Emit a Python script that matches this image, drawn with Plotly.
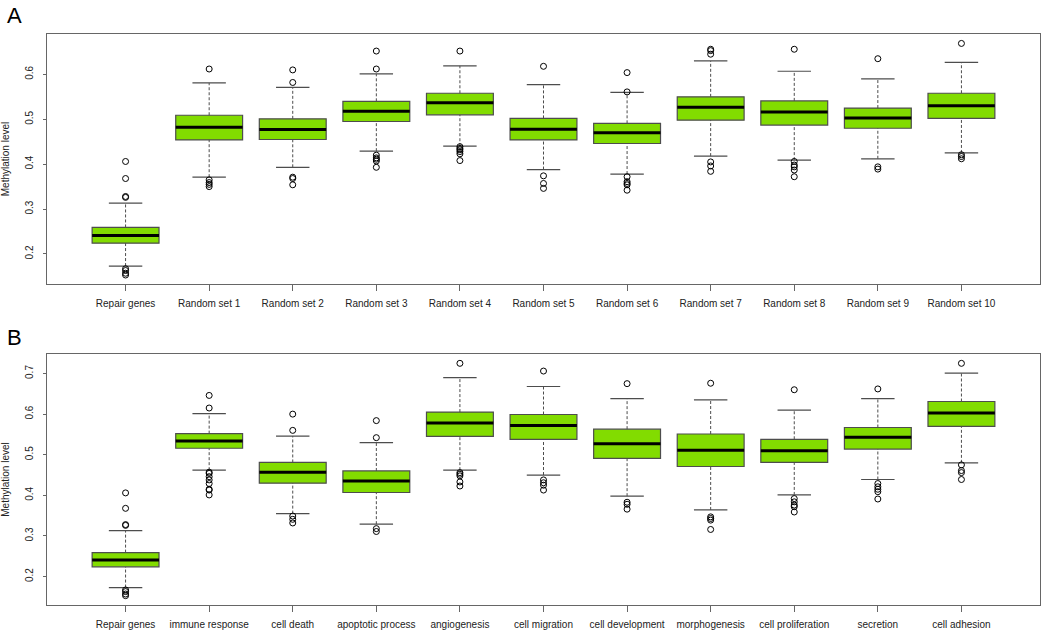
import plotly.graph_objects as go

# =========================
# 1. DATA
# =========================
cats_a = ["Repair genes", "Random set 1", "Random set 2", "Random set 3", "Random set 4",
          "Random set 5", "Random set 6", "Random set 7", "Random set 8", "Random set 9",
          "Random set 10"]
lo_a = [0.173, 0.371, 0.393, 0.429, 0.440, 0.388, 0.378, 0.418, 0.409, 0.412, 0.425]
q1_a = [0.224, 0.454, 0.455, 0.495, 0.510, 0.454, 0.446, 0.498, 0.487, 0.480, 0.502]
med_a = [0.241, 0.482, 0.477, 0.518, 0.537, 0.478, 0.470, 0.527, 0.516, 0.503, 0.530]
q3_a = [0.259, 0.509, 0.501, 0.540, 0.558, 0.502, 0.491, 0.550, 0.541, 0.525, 0.558]
hi_a = [0.313, 0.581, 0.571, 0.601, 0.619, 0.577, 0.560, 0.630, 0.607, 0.590, 0.627]
out_a = [
    [0.406, 0.368, 0.328, 0.326, 0.167, 0.163, 0.157, 0.153],
    [0.612, 0.365, 0.359, 0.355, 0.350],
    [0.610, 0.582, 0.371, 0.368, 0.354],
    [0.652, 0.612, 0.420, 0.414, 0.411, 0.407, 0.393],
    [0.652, 0.439, 0.435, 0.432, 0.428, 0.423, 0.408],
    [0.618, 0.374, 0.357, 0.346],
    [0.604, 0.561, 0.372, 0.361, 0.357, 0.354, 0.342],
    [0.656, 0.653, 0.645, 0.405, 0.396, 0.384],
    [0.656, 0.406, 0.398, 0.394, 0.387, 0.372],
    [0.635, 0.394, 0.389],
    [0.669, 0.421, 0.417, 0.412],
]

cats_b = ["Repair genes", "immune response", "cell death", "apoptotic process", "angiogenesis",
          "cell migration", "cell development", "morphogenesis", "cell proliferation",
          "secretion", "cell adhesion"]
lo_b = [0.173, 0.462, 0.355, 0.329, 0.462, 0.450, 0.398, 0.364, 0.401, 0.439, 0.480]
q1_b = [0.224, 0.516, 0.430, 0.407, 0.545, 0.538, 0.491, 0.471, 0.481, 0.514, 0.570]
med_b = [0.241, 0.534, 0.457, 0.435, 0.578, 0.572, 0.527, 0.511, 0.510, 0.543, 0.603]
q3_b = [0.259, 0.552, 0.481, 0.460, 0.605, 0.599, 0.563, 0.551, 0.538, 0.567, 0.631]
hi_b = [0.313, 0.601, 0.546, 0.530, 0.690, 0.668, 0.638, 0.635, 0.610, 0.638, 0.701]
out_b = [
    [0.406, 0.368, 0.328, 0.326, 0.167, 0.163, 0.157, 0.153],
    [0.646, 0.615, 0.457, 0.454, 0.446, 0.438, 0.429, 0.415, 0.413, 0.401],
    [0.600, 0.560, 0.349, 0.341, 0.332],
    [0.584, 0.542, 0.318, 0.311],
    [0.725, 0.456, 0.452, 0.448, 0.433, 0.423],
    [0.706, 0.438, 0.431, 0.425, 0.413],
    [0.675, 0.383, 0.378, 0.366],
    [0.676, 0.347, 0.343, 0.339, 0.316],
    [0.660, 0.392, 0.384, 0.376, 0.372, 0.359],
    [0.662, 0.429, 0.421, 0.415, 0.409, 0.391],
    [0.725, 0.475, 0.461, 0.456, 0.439],
]

yticks_a = [0.2, 0.3, 0.4, 0.5, 0.6]
yticks_b = [0.2, 0.3, 0.4, 0.5, 0.6, 0.7]

# =========================
# 2. STYLE
# =========================
GREEN = "#82dc00"
EDGE = "#4d4d4d"
FONT = "Liberation Sans"
BOXW = 0.8
CAPW = 0.4

fig = go.Figure()


def add_panel(cats, lo, q1, med, q3, hi, outs, xa, ya):
    pos = list(range(1, len(cats) + 1))
    # boxes
    fig.add_trace(go.Bar(
        x=pos, y=[b - a for a, b in zip(q1, q3)], base=q1, width=BOXW,
        marker=dict(color=GREEN, line=dict(color=EDGE, width=1.2)),
        xaxis=xa, yaxis=ya, showlegend=False, hoverinfo="skip"))
    # dashed whiskers
    wx, wy = [], []
    for p, a, b, c, d in zip(pos, lo, q1, q3, hi):
        wx += [p, p, None, p, p, None]
        wy += [a, b, None, c, d, None]
    fig.add_trace(go.Scatter(x=wx, y=wy, mode="lines", xaxis=xa, yaxis=ya,
                             line=dict(color=EDGE, width=1, dash="3px,2px"),
                             showlegend=False, hoverinfo="skip"))
    # staples
    sx, sy = [], []
    for p, a, d in zip(pos, lo, hi):
        sx += [p - CAPW / 2, p + CAPW / 2, None, p - CAPW / 2, p + CAPW / 2, None]
        sy += [a, a, None, d, d, None]
    fig.add_trace(go.Scatter(x=sx, y=sy, mode="lines", xaxis=xa, yaxis=ya,
                             line=dict(color=EDGE, width=1.2),
                             showlegend=False, hoverinfo="skip"))
    # medians
    mx, my = [], []
    for p, m in zip(pos, med):
        mx += [p - BOXW / 2, p + BOXW / 2, None]
        my += [m, m, None]
    fig.add_trace(go.Scatter(x=mx, y=my, mode="lines", xaxis=xa, yaxis=ya,
                             line=dict(color="black", width=3),
                             showlegend=False, hoverinfo="skip"))
    # outliers
    ox, oy = [], []
    for p, o in zip(pos, outs):
        ox += [p] * len(o)
        oy += o
    fig.add_trace(go.Scatter(x=ox, y=oy, mode="markers", xaxis=xa, yaxis=ya,
                             marker=dict(symbol="circle-open", size=6, color="black",
                                         line=dict(width=1)),
                             showlegend=False))


add_panel(cats_a, lo_a, q1_a, med_a, q3_a, hi_a, out_a, "x", "y")
add_panel(cats_b, lo_b, q1_b, med_b, q3_b, hi_b, out_b, "x2", "y2")

W, H = 1059, 631
xdom = [47 / W, 1040 / W]
axis_common = dict(showline=True, mirror=True, linecolor="#666666", linewidth=1,
                   showgrid=False, zeroline=False, ticks="outside", tickcolor="#666666",
                   tickfont=dict(family=FONT, size=10, color="#222222"))
ytitle = dict(text="Methylation level", font=dict(size=10, family=FONT, color="#222222"),
              standoff=12)

fig.update_layout(
    width=W, height=H,
    margin=dict(l=0, r=0, t=0, b=0),
    plot_bgcolor="white", paper_bgcolor="white",
    barmode="overlay",
    font=dict(family=FONT, color="#222222"),
    xaxis=dict(domain=xdom, anchor="y", range=[0.06, 11.94], tickmode="array",
               tickvals=list(range(1, 12)), ticktext=cats_a, ticklen=6,
               ticklabelstandoff=4, **axis_common),
    yaxis=dict(domain=[1 - 284 / H, 1 - 34 / H], anchor="x", range=[0.133, 0.69],
               tickvals=yticks_a, ticktext=[f"{v:.1f}" for v in yticks_a], tickangle=-90,
               ticklen=3, ticklabelstandoff=6, title=ytitle, **axis_common),
    xaxis2=dict(domain=xdom, anchor="y2", range=[0.06, 11.94], tickmode="array",
                tickvals=list(range(1, 12)), ticktext=cats_b, ticklen=6,
                ticklabelstandoff=4, **axis_common),
    yaxis2=dict(domain=[1 - 605 / H, 1 - 354 / H], anchor="x2", range=[0.130, 0.748],
                tickvals=yticks_b, ticktext=[f"{v:.1f}" for v in yticks_b], tickangle=-90,
                ticklen=3, ticklabelstandoff=6, title=ytitle, **axis_common),
    annotations=[
        dict(text="A", x=5 / W, y=1 - 1 / H, xref="paper", yref="paper",
             xanchor="left", yanchor="top", showarrow=False,
             font=dict(family=FONT, size=22, color="black")),
        dict(text="B", x=5 / W, y=1 - 323 / H, xref="paper", yref="paper",
             xanchor="left", yanchor="top", showarrow=False,
             font=dict(family=FONT, size=22, color="black")),
    ],
)

# drop the page's default body margin so the figure sits at the window's corner
fig.write_html("out.html", config={"displayModeBar": False},
               post_script="document.body.style.margin='0';")
